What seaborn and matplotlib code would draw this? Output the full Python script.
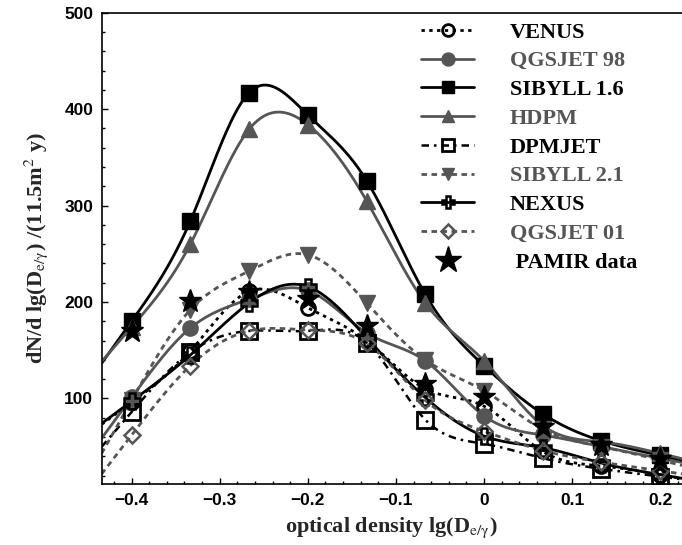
import numpy as np
import matplotlib
matplotlib.use("Agg")
import matplotlib.pyplot as plt
import seaborn as sns
from matplotlib.lines import Line2D
from matplotlib.ticker import MultipleLocator, FixedLocator

# ---------------- data ----------------
x_vals = [-0.4, -0.3333, -0.2667, -0.2, -0.1333, -0.0667, 0.0, 0.0667, 0.1333, 0.2]

venus    = [96, 149, 211, 194, 160, 110, 92, 45, 30, 21]
qgsjet98 = [101, 173, 203, 212, 168, 139, 82, 62, 50, 38]
sibyll16 = [180, 284, 417, 394, 326, 208, 134, 84, 56, 41]
hdpm     = [174, 260, 379, 384, 305, 199, 139, 72, 55, 43]
dpmjet   = [86, 148, 170, 170, 158, 78, 53, 38, 27, 19]
sibyll21 = [98, 192, 232, 249, 199, 140, 108, 68, 50, 36]
nexus    = [97, 145, 199, 216, 163, 101, 61, 49, 33, 21]
qgsjet01 = [62, 134, 170, 171, 157, 98, 66, 46, 34, 25]
pamir    = [170, 201, 210, 203, 175, 115, 101, 70, 52, 37]

labels = ["VENUS", "QGSJET 98", "SIBYLL 1.6", "HDPM", "DPMJET",
          "SIBYLL 2.1", "NEXUS", "QGSJET 01", " PAMIR data"]

x_ticks = [-0.4, -0.3, -0.2, -0.1, 0, 0.1, 0.2]
x_tick_labels = ["\u22120.4", "\u22120.3", "\u22120.2", "\u22120.1", "0", "0.1", "0.2"]
y_ticks = [100, 200, 300, 400, 500]

# ---------------- helpers ----------------
def natural_spline(x, y, xd):
    x = np.asarray(x, float); y = np.asarray(y, float)
    n = len(x); h = np.diff(x)
    A = np.zeros((n, n)); b = np.zeros(n)
    A[0, 0] = 1; A[-1, -1] = 1
    for i in range(1, n - 1):
        A[i, i - 1] = h[i - 1]; A[i, i] = 2 * (h[i - 1] + h[i]); A[i, i + 1] = h[i]
        b[i] = 6 * ((y[i + 1] - y[i]) / h[i] - (y[i] - y[i - 1]) / h[i - 1])
    M = np.linalg.solve(A, b)
    out = np.empty_like(xd)
    for k, t in enumerate(xd):
        if t <= x[0]:
            s = (y[1] - y[0]) / h[0] - h[0] * (2 * M[0] + M[1]) / 6
            out[k] = y[0] + s * (t - x[0]); continue
        if t >= x[-1]:
            s = (y[-1] - y[-2]) / h[-1] + h[-1] * (M[-2] + 2 * M[-1]) / 6
            out[k] = y[-1] + s * (t - x[-1]); continue
        i = min(np.searchsorted(x, t) - 1, n - 2)
        a = x[i + 1] - t; c = t - x[i]
        out[k] = (M[i] * a**3 + M[i + 1] * c**3) / (6 * h[i]) \
            + (y[i] / h[i] - M[i] * h[i] / 6) * a + (y[i + 1] / h[i] - M[i + 1] * h[i] / 6) * c
    return out

# ---------------- style ----------------
sns.set_theme(style="ticks")
plt.rcParams["font.family"] = ["Liberation Sans", "DejaVu Sans"]
plt.rcParams["mathtext.fontset"] = "stix"

GRAY = "#555555"
BLACK = "#000000"

styles = [
    # color, linestyle, lw, marker, ms, facecolor, mew
    (BLACK, (0, (1.2, 1.6)), 2.0, "o", 10, "none", 2.0),   # VENUS
    (GRAY, "-", 2.0, "o", 11, GRAY, 1.0),                  # QGSJET 98
    (BLACK, "-", 2.0, "s", 11, BLACK, 1.0),                # SIBYLL 1.6
    (GRAY, "-", 2.0, "^", 11, GRAY, 1.0),                  # HDPM
    (BLACK, (0, (3, 2, 1, 2)), 1.8, "s", 11, "none", 2.0), # DPMJET
    (GRAY, (0, (2, 1.6)), 2.0, "v", 11, GRAY, 1.0),        # SIBYLL 2.1
    (BLACK, "-", 2.0, "P", 11, "none", 1.8),               # NEXUS
    (GRAY, (0, (2, 1.6)), 2.0, "D", 8, "none", 1.8),       # QGSJET 01
]
series = [venus, qgsjet98, sibyll16, hdpm, dpmjet, sibyll21, nexus, qgsjet01]

fig = plt.figure(figsize=(6.82, 5.45), dpi=100)
ax = fig.add_axes([0.149, 0.1114, 0.851, 0.8653])

xlo, xhi = -0.434, 0.2247
xd = np.linspace(xlo, xhi, 400)

for vals, (col, ls, lw, mk, ms, fc, mew) in zip(series, styles):
    yd = natural_spline(x_vals, vals, xd)
    sns.lineplot(x=xd, y=yd, ax=ax, color=col, linestyle=ls, linewidth=lw,
                 sort=False, estimator=None, legend=False, zorder=2)
    ax.plot(x_vals, vals, linestyle="none", marker=mk, markersize=ms,
            markerfacecolor=fc, markeredgecolor=col, markeredgewidth=mew, zorder=3)

ax.plot(x_vals, pamir, linestyle="none", marker="*", markersize=17,
        color=BLACK, zorder=4)

ax.set_xlim(xlo, xhi)
ax.set_ylim(11, 500)
ax.xaxis.set_major_locator(FixedLocator(x_ticks))
ax.set_xticklabels(x_tick_labels)
ax.xaxis.set_minor_locator(MultipleLocator(0.02))
ax.yaxis.set_major_locator(FixedLocator(y_ticks))
ax.yaxis.set_minor_locator(MultipleLocator(20))
ax.tick_params(which="both", direction="in", width=1.0, colors=BLACK, labelsize=12.5,
               top=False, right=False)
ax.tick_params(which="major", length=4, pad=6)
ax.tick_params(which="minor", length=2.2)
for lab in ax.get_xticklabels() + ax.get_yticklabels():
    lab.set_fontweight("bold")
ax.spines["right"].set_visible(False)
for s in ["left", "top", "bottom"]:
    ax.spines[s].set_linewidth(1.2)
    ax.spines[s].set_color(BLACK)

ax.set_xlabel(r"optical density lg(D$_{\rm e/\gamma}$)", fontsize=16,
              fontweight="bold", family="Liberation Serif", labelpad=6)
ax.set_ylabel(r"dN/d lg(D$_{\rm e/\gamma}$) /(11.5m$^{2}$ y)", fontsize=16,
              fontweight="bold", family="Liberation Serif", labelpad=10)

handles = []
for (col, ls, lw, mk, ms, fc, mew) in styles:
    handles.append(Line2D([], [], color=col, linestyle=ls, linewidth=lw, marker=mk,
                          markersize=ms * 0.85, markerfacecolor=fc, markeredgecolor=col,
                          markeredgewidth=mew))
handles.append(Line2D([], [], color=BLACK, linestyle="none", marker="*", markersize=20))

leg = ax.legend(handles, labels, loc="upper left",
                bbox_to_anchor=(421 / 682, 1 - 22 / 545), bbox_transform=fig.transFigure,
                frameon=False, borderpad=0, borderaxespad=0, handlelength=2.4,
                handletextpad=1.6, labelspacing=0.37,
                prop={"family": "Liberation Serif", "weight": "bold", "size": 16})
text_colors = [BLACK, GRAY, BLACK, GRAY, BLACK, GRAY, BLACK, GRAY, BLACK]
for t, c in zip(leg.get_texts(), text_colors):
    t.set_color(c)

fig.savefig("out.png", dpi=100)
